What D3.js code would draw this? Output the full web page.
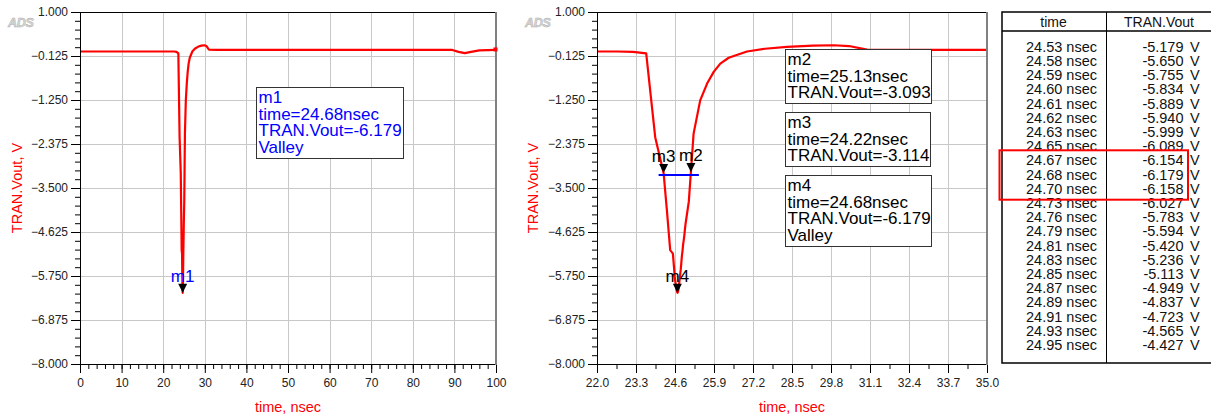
<!DOCTYPE html>
<html><head><meta charset="utf-8">
<script src="https://cdn.jsdelivr.net/npm/d3@7"></script>
<style>
html,body{margin:0;padding:0;background:#fff;}
svg{display:block;font-family:"Liberation Sans",Arial,sans-serif;}
</style></head><body>
<svg id="c" width="1211" height="418"></svg>
<script>
// ---- data ----
const curveTime = [0, 10, 20, 22, 22.67, 23.2, 23.64, 23.94, 24.22, 24.33, 24.44,
  24.53, 24.58, 24.59, 24.60, 24.61, 24.62, 24.63, 24.65, 24.67, 24.68, 24.70,
  24.73, 24.76, 24.79, 24.81, 24.83, 24.85, 24.87, 24.89, 24.91, 24.93, 24.95,
  25.06, 25.13, 25.22, 25.44, 25.67, 25.89, 26.11, 26.39, 27.0, 27.6, 28.33, 29.2, 29.89,
  30.4, 31.0, 33, 35, 50, 70, 89.5, 91, 92.5, 94, 96, 100];
const curveVout = [-0.01, -0.01, -0.01, -0.01, -0.01, -0.02, -0.06, -2.2, -3.114, -4.07, -5.09,
  -5.179, -5.650, -5.755, -5.834, -5.889, -5.940, -5.999, -6.089, -6.154, -6.179, -6.158,
  -6.027, -5.783, -5.594, -5.420, -5.236, -5.113, -4.949, -4.837, -4.723, -4.565, -4.427,
  -3.85, -3.093, -2.11, -1.26, -0.83, -0.53, -0.32, -0.17, -0.01, 0.06, 0.11, 0.14, 0.15,
  0.13, 0.04, 0.03, 0.03, 0.03, 0.03, 0.03, -0.02, -0.05, -0.02, 0.02, 0.03];

const yTicks = [1.000, -0.125, -1.250, -2.375, -3.500, -4.625, -5.750, -6.875, -8.000];
const leftXTicks = [0, 10, 20, 30, 40, 50, 60, 70, 80, 90, 100];
const rightXTicks = [22.0, 23.3, 24.6, 25.9, 27.2, 28.5, 29.8, 31.1, 32.4, 33.7, 35.0];

const tableTime = [24.53, 24.58, 24.59, 24.60, 24.61, 24.62, 24.63, 24.65, 24.67, 24.68, 24.70,
  24.73, 24.76, 24.79, 24.81, 24.83, 24.85, 24.87, 24.89, 24.91, 24.93, 24.95];
const tableVout = [-5.179, -5.650, -5.755, -5.834, -5.889, -5.940, -5.999, -6.089, -6.154, -6.179, -6.158,
  -6.027, -5.783, -5.594, -5.420, -5.236, -5.113, -4.949, -4.837, -4.723, -4.565, -4.427];
const highlightRows = [8, 10];

const markerName = ["m1", "m2", "m3", "m4"];
const markerTime = [24.68, 25.13, 24.22, 24.68];
const markerVout = [-6.179, -3.093, -3.114, -6.179];
const markerNote = ["Valley", "", "", "Valley"];

// ---- drawing ----
const svg = d3.select("#c");
const RED = "#ff0000", BLUE = "#0000ff";
const yScale = d3.scaleLinear().domain([-8, 1]).range([364, 12]);
const yMinor = d3.range(1, -8.001, -0.225);

function plot(id, xDomain, xRange, xTicks, xMinor, xFmt, yLabelX) {
  const x = d3.scaleLinear().domain(xDomain).range(xRange);
  const g = svg.append("g");
  const [x0, x1] = xRange, [y0, y1] = [12, 364];

  // grid
  g.append("g").selectAll("line").data(xTicks).join("line")
    .attr("x1", d => Math.round(x(d)) + 0.5).attr("x2", d => Math.round(x(d)) + 0.5)
    .attr("y1", y0).attr("y2", y1).attr("stroke", "#c8c8c8").attr("stroke-width", 1);
  g.append("g").selectAll("line").data(yTicks).join("line")
    .attr("y1", d => Math.round(yScale(d)) + 0.5).attr("y2", d => Math.round(yScale(d)) + 0.5)
    .attr("x1", x0).attr("x2", x1).attr("stroke", "#c8c8c8").attr("stroke-width", 1);

  // curve
  svg.append("defs").append("clipPath").attr("id", id)
    .append("rect").attr("x", x0).attr("y", y0 - 2).attr("width", x1 - x0).attr("height", y1 - y0 + 4);
  const line = d3.line().x((d, i) => x(curveTime[i])).y((d, i) => yScale(curveVout[i]));
  g.append("path").datum(curveTime).attr("d", line).attr("clip-path", `url(#${id})`)
    .attr("fill", "none").attr("stroke", RED).attr("stroke-width", 2.2).attr("stroke-linejoin", "round");

  // axes
  g.append("g").attr("transform", `translate(${x0},0)`)
    .call(d3.axisLeft(yScale).tickValues(yTicks).tickFormat(d3.format(".3f")).tickSize(9).tickPadding(3).tickSizeOuter(0));
  g.append("g").attr("transform", `translate(${x0},0)`)
    .call(d3.axisLeft(yScale).tickValues(yMinor).tickFormat("").tickSize(5).tickSizeOuter(0))
    .select(".domain").remove();
  g.append("g").attr("transform", `translate(0,${y1})`)
    .call(d3.axisBottom(x).tickValues(xTicks).tickFormat(xFmt).tickSize(9).tickPadding(5).tickSizeOuter(0));
  g.append("g").attr("transform", `translate(0,${y1})`)
    .call(d3.axisBottom(x).tickValues(xMinor).tickFormat("").tickSize(5).tickSizeOuter(0))
    .select(".domain").remove();
  g.selectAll(".tick text").attr("font-size", 12).attr("font-family", '"Liberation Sans",Arial,sans-serif').attr("fill", "#222");
  g.selectAll(".tick line").attr("stroke", "#000");
  g.selectAll(".domain").attr("stroke", "#000");

  // top & right borders
  g.append("line").attr("x1", x0).attr("x2", x1).attr("y1", y0 + 0.5).attr("y2", y0 + 0.5).attr("stroke", "#000");
  g.append("line").attr("x1", x1).attr("x2", x1).attr("y1", y0).attr("y2", y1 + 1).attr("stroke", "#808080").attr("stroke-width", 2);

  // end point square
  const n = curveTime.length - 1;
  g.append("rect").attr("x", x(curveTime[n]) - 2.5).attr("y", yScale(curveVout[n]) - 2.5)
    .attr("width", 4).attr("height", 4).attr("fill", RED);

  // axis labels
  g.append("text").attr("x", (x0 + x1) / 2).attr("y", 412).attr("text-anchor", "middle")
    .attr("fill", RED).attr("font-size", 14.5).text("time, nsec");
  g.append("text").attr("transform", `translate(${yLabelX},${(y0 + y1) / 2}) rotate(-90)`)
    .attr("text-anchor", "middle").attr("fill", RED).attr("font-size", 14.5).text("TRAN.Vout, V");

  // ADS logo
  g.append("text").attr("x", x0 - 72).attr("y", 27).attr("font-size", 12.5).attr("font-weight", "bold")
    .attr("font-style", "italic").attr("fill", "#dadada").attr("stroke", "#ababab").attr("stroke-width", 0.5)
    .attr("letter-spacing", -0.3).text("ADS");
  return { x, g };
}

function marker(g, x, i, color) {
  const px = x(markerTime[i]), py = yScale(markerVout[i]);
  g.append("path").attr("d", `M${px},${py} L${px - 4.5},${py - 9} L${px + 4.5},${py - 9} Z`).attr("fill", "#000");
  g.append("text").attr("x", px).attr("y", py - 11).attr("text-anchor", "middle")
    .attr("font-size", 17).attr("fill", color).text(markerName[i]);
}

function infoBox(g, i, left, top, w, h, color) {
  g.append("rect").attr("x", left + 0.5).attr("y", top + 0.5).attr("width", w).attr("height", h)
    .attr("fill", "#fff").attr("stroke", "#333").attr("stroke-width", 1);
  const lines = [markerName[i], `time=${markerTime[i].toFixed(2)}nsec`, `TRAN.Vout=${markerVout[i].toFixed(3)}`];
  if (markerNote[i]) lines.push(markerNote[i]);
  g.append("text").attr("font-size", 17).attr("fill", color)
    .selectAll("tspan").data(lines).join("tspan")
    .attr("x", left + 2.5).attr("y", (d, k) => top + 16 + k * 16.7).text(d => d);
}

// left plot
const L = plot("clipL", [0, 100], [80, 496], leftXTicks, d3.range(0, 100.1, 2), d3.format("d"), 22);
infoBox(L.g, 0, 256, 87, 147, 71, BLUE);
marker(L.g, L.x, 0, BLUE);

// right plot
const R = plot("clipR", [22, 35], [597, 987], rightXTicks, d3.range(22, 35.01, 0.65), d3.format(".1f"), 538);
infoBox(R.g, 1, 785, 49, 146, 54, "#000");
infoBox(R.g, 2, 785, 112, 145, 54, "#000");
infoBox(R.g, 3, 785, 175, 146, 71, "#000");
// delta line between m3 and m2
const dy = (yScale(markerVout[1]) + yScale(markerVout[2])) / 2 + 2.5;
R.g.append("line").attr("x1", R.x(markerTime[2]) - 5).attr("x2", R.x(markerTime[1]) + 8)
  .attr("y1", dy).attr("y2", dy).attr("stroke", BLUE).attr("stroke-width", 2);
marker(R.g, R.x, 2, "#000");
marker(R.g, R.x, 1, "#000");
marker(R.g, R.x, 3, "#000");

// table
const T = svg.append("g");
const tL = 1002, tR = 1213, tT = 12, tB = 363, colX = 1106.5, hdrY = 31;
T.append("rect").attr("x", tL).attr("y", tT).attr("width", tR - tL).attr("height", tB - tT)
  .attr("fill", "#fff").attr("stroke", "#000").attr("stroke-width", 1.5);
T.append("line").attr("x1", tL).attr("x2", tR).attr("y1", hdrY).attr("y2", hdrY).attr("stroke", "#000").attr("stroke-width", 1.5);
T.append("line").attr("x1", colX).attr("x2", colX).attr("y1", tT).attr("y2", tB).attr("stroke", "#000").attr("stroke-width", 1);
T.append("text").attr("x", 1053.5).attr("y", 27).attr("text-anchor", "middle").attr("font-size", 14).attr("fill", "#111").text("time");
T.append("text").attr("x", 1159).attr("y", 27).attr("text-anchor", "middle").attr("font-size", 14).attr("fill", "#111").text("TRAN.Vout");
const rowY = d3.scaleLinear().domain([0, tableTime.length - 1]).range([46.7, 46.7 + 21 * 14.2]);
T.append("g").selectAll("text").data(tableTime).join("text")
  .attr("x", 1097).attr("y", (d, i) => rowY(i) + 5).attr("text-anchor", "end").attr("font-size", 14.5).attr("fill", "#111")
  .text(d => `${d.toFixed(2)} nsec`);
T.append("g").selectAll("text").data(tableVout).join("text")
  .attr("x", 1183.5).attr("y", (d, i) => rowY(i) + 5).attr("text-anchor", "end").attr("font-size", 14.5).attr("fill", "#111")
  .text(d => d.toFixed(3));
T.append("g").selectAll("text").data(tableVout).join("text")
  .attr("x", 1190).attr("y", (d, i) => rowY(i) + 5).attr("font-size", 14.5).attr("fill", "#111").text("V");
T.append("rect").attr("x", 999.5).attr("y", rowY(highlightRows[0]) - 10).attr("width", 188.5)
  .attr("height", rowY(highlightRows[1]) - rowY(highlightRows[0]) + 21)
  .attr("fill", "none").attr("stroke", RED).attr("stroke-width", 2);
</script>
</body></html>
